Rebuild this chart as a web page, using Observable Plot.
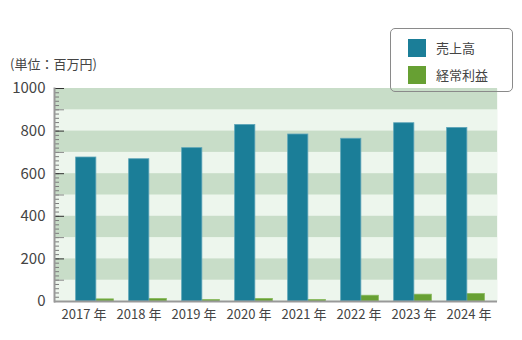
<!DOCTYPE html>
<html>
<head>
<meta charset="utf-8">
<script src="https://cdn.jsdelivr.net/npm/d3@7"></script>
<script src="https://cdn.jsdelivr.net/npm/@observablehq/plot@0.6"></script>
<style>
  html, body { margin: 0; padding: 0; background: #fff; }
  body { font-family: "Noto Sans CJK JP", "Noto Sans", sans-serif; }
  #wrap { position: relative; width: 522px; height: 340px; }
  #wrap svg { position: absolute; left: 0; top: 0; }
  #unit { position: absolute; left: 10px; top: 54px; font-size: 13px; color: #444; white-space: nowrap; }
  #legend { position: absolute; left: 390px; top: 28px; width: 121px; height: 62px; border: 1px solid #8a8a8a; border-radius: 5px; }
  .item { position: absolute; left: 17px; display: flex; align-items: center; font-size: 13px; color: #444; }
  .sw { width: 18px; height: 18px; margin-right: 10px; }
</style>
</head>
<body>
<div id="wrap"></div>
<script>
// ---- data ----
const years = ["2017", "2018", "2019", "2020", "2021", "2022", "2023", "2024"];
const sales = [676, 668, 720, 829, 784, 764, 837, 815];   // 売上高
const profit = [10, 12, 7, 12, 7, 27, 32, 35];            // 経常利益
const seriesNames = ["売上高", "経常利益"];
const seriesColors = ["#1b7e98", "#67a033"];
const yLabelTicks = [0, 200, 400, 600, 800, 1000];
const unitLabel = "(単位：百万円)";

// ---- derived tables ----
const salesRows = years.map((y, i) => ({year: y, value: sales[i]}));
const profitRows = years.map((y, i) => ({year: y, value: profit[i]}));
const minorTicks = d3.range(0, 1001, 20);
const midTicks = d3.range(100, 1000, 200);
const darkBands = d3.range(100, 1000, 200).map(v => ({y1: v, y2: v + 100}));

const W = 522, H = 340;
const M = {top: 88, bottom: 39, left: 54, right: 25};
const font = "'Noto Sans CJK JP', 'Noto Sans', sans-serif";
const yScale = {domain: [0, 1000]};

// base layer: background bands, axes, labels
const base = Plot.plot({
  width: W, height: H,
  marginTop: M.top, marginBottom: M.bottom, marginLeft: M.left, marginRight: M.right,
  style: {fontFamily: font, background: "transparent", color: "#444"},
  x: {type: "band", domain: years, padding: 0},
  y: yScale,
  marks: [
    Plot.frame({fill: "#edf6ed", stroke: "none"}),
    Plot.rectY(darkBands, {y1: "y1", y2: "y2", fill: "#c8ddc8"}),
    Plot.axisX({tickSize: 0, tickPadding: 8, fontSize: 13, tickFormat: d => d + " 年", fill: "#444"}),
    Plot.axisY({ticks: yLabelTicks, tickSize: 0, tickPadding: 9, fontSize: 15, tickFormat: d => String(d), fill: "#444"}),
    Plot.axisY({ticks: minorTicks, tickSize: 5, dx: 5, text: null, stroke: "#7a7a7a"}),
    Plot.axisY({ticks: midTicks, tickSize: 10, dx: 10, text: null, stroke: "#8a8a8a"}),
    Plot.axisY({ticks: yLabelTicks, tickSize: 10, dx: 10, text: null, stroke: "#333"}),
    Plot.frame({anchor: "left", stroke: "#999", strokeWidth: 2})
  ]
});

// bar layer: bars are spaced slightly tighter than the label slots in the original
const bars = Plot.plot({
  width: W, height: H,
  marginTop: M.top, marginBottom: M.bottom, marginLeft: M.left, marginRight: M.right,
  style: {background: "transparent"},
  x: {type: "band", domain: years, padding: 0, range: [67.35, 493.75], axis: null},
  y: {...yScale, axis: null},
  marks: [
    Plot.barY(profitRows, {x: "year", y: "value", fill: seriesColors[1], stroke: "#86b85a", strokeWidth: 0.8, insetLeft: 24.65, insetRight: 8.65}),
    Plot.barY(salesRows, {x: "year", y: "value", fill: seriesColors[0], stroke: "#5ea5b8", strokeWidth: 0.8, insetLeft: 6.65, insetRight: 26.15}),
    Plot.ruleY([0], {stroke: "#999", strokeWidth: 2})
  ]
});

const wrap = document.getElementById("wrap");
wrap.appendChild(base);
wrap.appendChild(bars);

const unit = document.createElement("div");
unit.id = "unit";
unit.textContent = unitLabel;
wrap.appendChild(unit);

const legend = document.createElement("div");
legend.id = "legend";
seriesNames.forEach((name, i) => {
  const item = document.createElement("div");
  item.className = "item";
  item.style.top = (9 + i * 27) + "px";
  const sw = document.createElement("span");
  sw.className = "sw";
  sw.style.background = seriesColors[i];
  const t = document.createElement("span");
  t.textContent = name;
  item.appendChild(sw);
  item.appendChild(t);
  legend.appendChild(item);
});
wrap.appendChild(legend);
</script>
</body>
</html>
